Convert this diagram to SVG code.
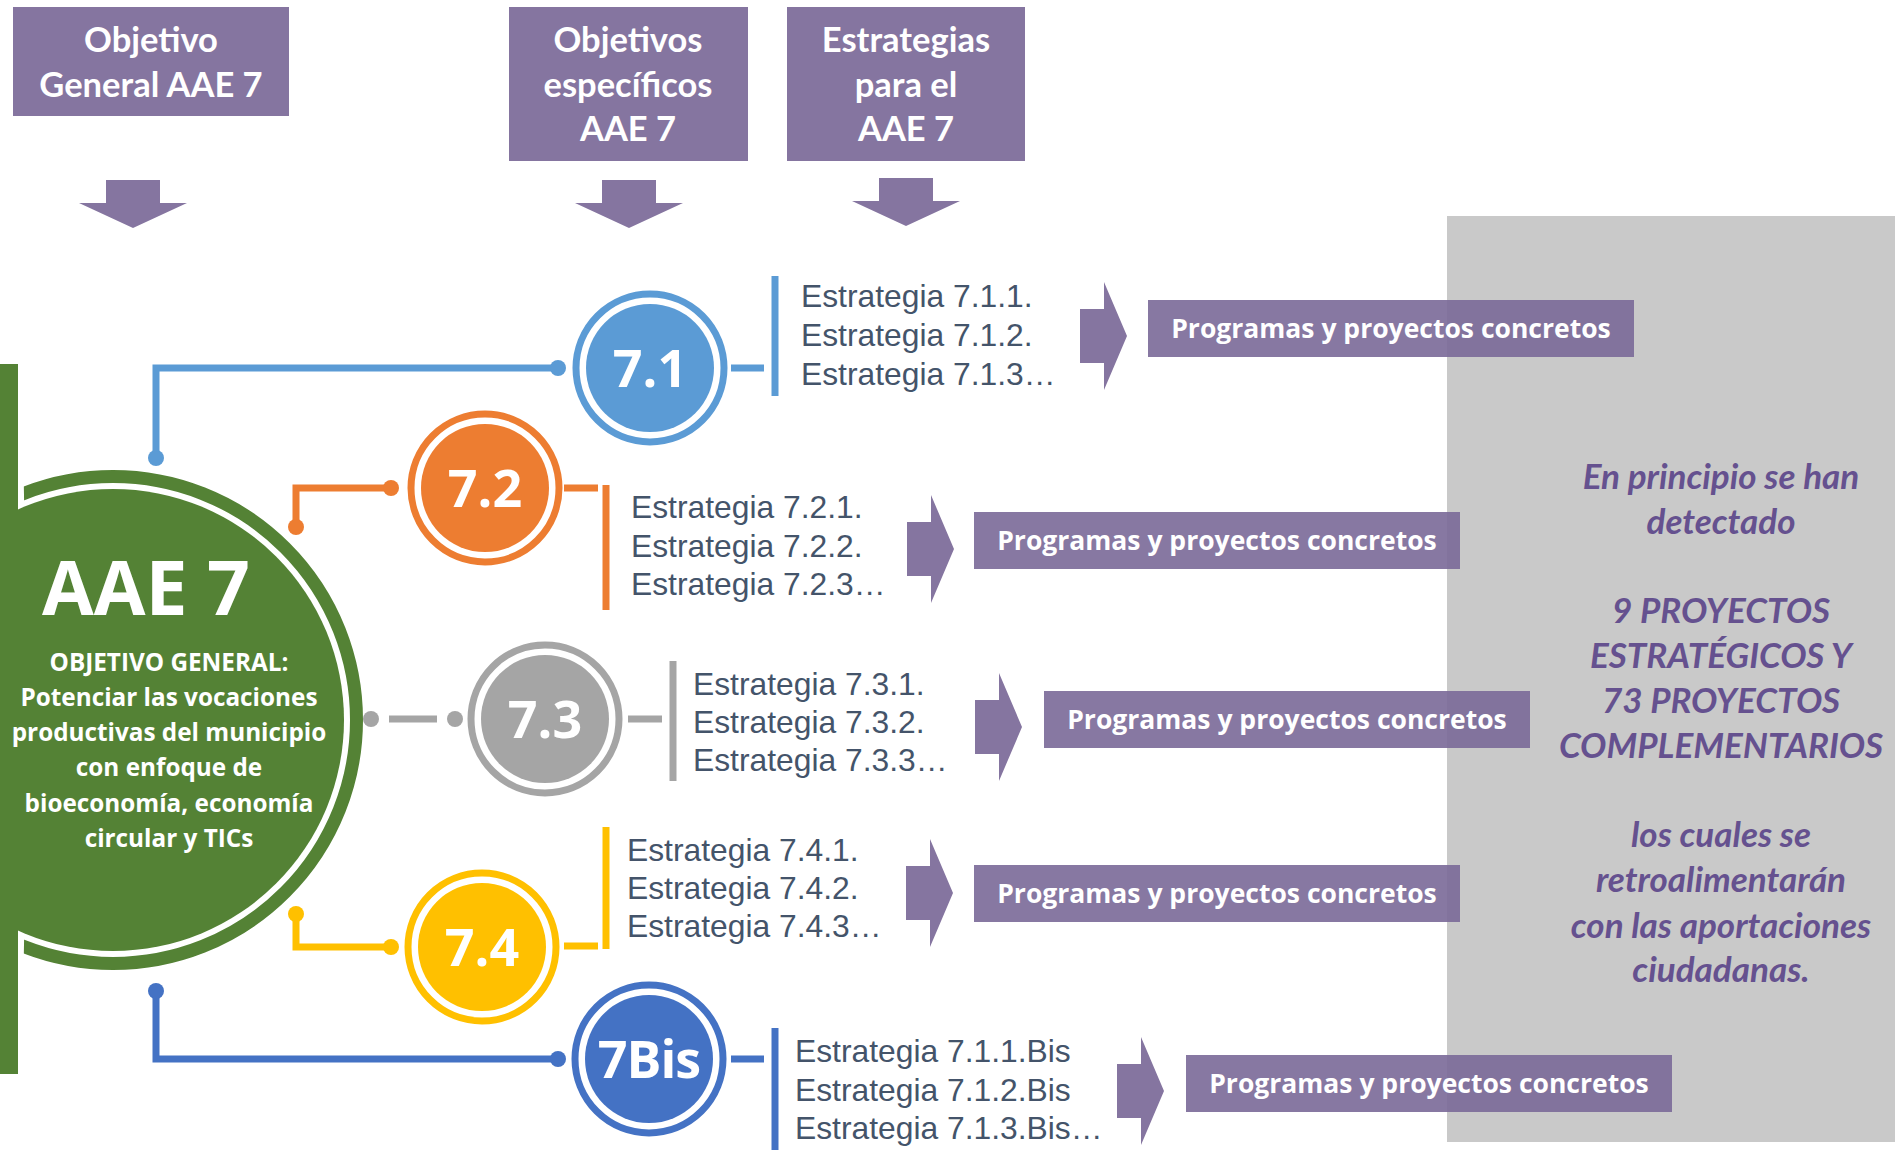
<svg xmlns="http://www.w3.org/2000/svg" width="1895" height="1150" viewBox="0 0 1895 1150">
<defs>
<style>
.hdr{fill:#8575A0}
.hdrt{font-family:Lato,'Liberation Sans',sans-serif;font-weight:700;font-size:34.5px;fill:#fff;text-anchor:middle}
.arr{fill:#8575A0}
.prog{fill:#7A6998;fill-opacity:0.9}
.progt{font-family:'Open Sans','Liberation Sans',sans-serif;font-weight:700;font-size:26.5px;fill:#fff;text-anchor:middle}
.st{font-family:'Liberation Sans',Arial,sans-serif;font-size:31.8px;fill:#44546A}
.num{font-family:'Open Sans','Liberation Sans',sans-serif;font-weight:700;font-size:52px;fill:#fff;text-anchor:middle}
.note{font-family:Lato,'Liberation Sans',sans-serif;font-weight:700;font-style:italic;font-size:35px;fill:#65518F;text-anchor:middle}
.gt{font-family:'Open Sans','Liberation Sans',sans-serif;font-weight:700;font-size:24.3px;fill:#fff;text-anchor:middle}
.ln{fill:none;stroke-width:7}
</style>
<path id="down" d="M-27,0 H27 V23 H54 L0,48 L-54,23 H-27 Z"/>
<path id="right" d="M0,-27 H24 V-54 L47,0 L24,54 V27 H0 Z"/>
<clipPath id="ringClip"><polygon points="23,0 400,0 400,1150 23,1150 23,1000 28,720 23,440"/></clipPath>
</defs>
<rect width="1895" height="1150" fill="#fff"/>

<rect id="panel" x="1447" y="216" width="448" height="926" fill="#C9C9C9"/>

<g id="hdr1"><rect class="hdr" x="13" y="7" width="276" height="109"/>
<text class="hdrt" x="151" y="52">Objetivo</text><text class="hdrt" x="151" y="97">General AAE 7</text></g>
<g id="hdr2"><rect class="hdr" x="509" y="7" width="239" height="154"/>
<text class="hdrt" x="628" y="52">Objetivos</text><text class="hdrt" x="628" y="97">específicos</text><text class="hdrt" x="628" y="141">AAE 7</text></g>
<g id="hdr3"><rect class="hdr" x="787" y="7" width="238" height="154"/>
<text class="hdrt" x="906" y="52">Estrategias</text><text class="hdrt" x="906" y="97">para el</text><text class="hdrt" x="906" y="141">AAE 7</text></g>

<g id="downArrows">
<use href="#down" class="arr" x="133" y="180"/>
<use href="#down" class="arr" x="629" y="180"/>
<use href="#down" class="arr" x="906" y="178"/>
</g>

<g id="aae7">
<circle cx="113" cy="720" r="243.5" fill="none" stroke="#548235" stroke-width="13" clip-path="url(#ringClip)"/>
<circle cx="113" cy="720" r="231" fill="#548235"/>
<rect x="0" y="364" width="18" height="710" fill="#548235"/>
<text class="num" x="146" y="615" style="font-size:75px">AAE 7</text>
<text class="gt" x="169" y="671">OBJETIVO GENERAL:</text>
<text class="gt" x="169" y="706">Potenciar las vocaciones</text>
<text class="gt" x="169" y="741">productivas del municipio</text>
<text class="gt" x="169" y="776">con enfoque de</text>
<text class="gt" x="169" y="812">bioeconomía, economía</text>
<text class="gt" x="169" y="847">circular y TICs</text>
</g>

<g id="connectors">
<g stroke="#5B9BD5" fill="#5B9BD5">
<polyline class="ln" points="156,458 156,368 558,368"/><circle cx="156" cy="458" r="8" stroke="none"/><circle cx="558" cy="368" r="8" stroke="none"/>
<line class="ln" x1="731" y1="368" x2="764" y2="368"/><line class="ln" x1="775" y1="276" x2="775" y2="396"/>
</g>
<g stroke="#ED7D31" fill="#ED7D31">
<polyline class="ln" points="296,527 296,488 391,488"/><circle cx="296" cy="527" r="8" stroke="none"/><circle cx="391" cy="488" r="8" stroke="none"/>
<line class="ln" x1="564" y1="488" x2="598" y2="488"/><line class="ln" x1="606" y1="485" x2="606" y2="610"/>
</g>
<g stroke="#A5A5A5" fill="#A5A5A5">
<line class="ln" x1="389" y1="719" x2="437" y2="719"/><circle cx="371" cy="719" r="8" stroke="none"/><circle cx="455" cy="719" r="8" stroke="none"/>
<line class="ln" x1="628" y1="719" x2="662" y2="719"/><line class="ln" x1="673" y1="661" x2="673" y2="781"/>
</g>
<g stroke="#FFC000" fill="#FFC000">
<polyline class="ln" points="296,914 296,947 391,947"/><circle cx="296" cy="914" r="8" stroke="none"/><circle cx="391" cy="947" r="8" stroke="none"/>
<line class="ln" x1="564" y1="946" x2="598" y2="946"/><line class="ln" x1="606" y1="827" x2="606" y2="949"/>
</g>
<g stroke="#4472C4" fill="#4472C4">
<polyline class="ln" points="156,991 156,1059 558,1059"/><circle cx="156" cy="991" r="8" stroke="none"/><circle cx="558" cy="1059" r="8" stroke="none"/>
<line class="ln" x1="731" y1="1059" x2="764" y2="1059"/><line class="ln" x1="775" y1="1028" x2="775" y2="1150"/>
</g>
</g>

<g id="obj71">
<circle cx="650" cy="368" r="74" fill="none" stroke="#5B9BD5" stroke-width="7"/>
<circle cx="650" cy="368" r="64" fill="#5B9BD5"/>
<text class="num" x="650" y="387">7.1</text></g>
<g id="obj72">
<circle cx="485" cy="488" r="74" fill="none" stroke="#ED7D31" stroke-width="7"/>
<circle cx="485" cy="488" r="64" fill="#ED7D31"/>
<text class="num" x="485" y="507">7.2</text></g>
<g id="obj73">
<circle cx="545" cy="719" r="74" fill="none" stroke="#A5A5A5" stroke-width="7"/>
<circle cx="545" cy="719" r="64" fill="#A5A5A5"/>
<text class="num" x="545" y="738">7.3</text></g>
<g id="obj74">
<circle cx="482" cy="947" r="74" fill="none" stroke="#FFC000" stroke-width="7"/>
<circle cx="482" cy="947" r="64" fill="#FFC000"/>
<text class="num" x="482" y="966">7.4</text></g>
<g id="obj7bis">
<circle cx="649" cy="1059" r="74" fill="none" stroke="#4472C4" stroke-width="7"/>
<circle cx="649" cy="1059" r="64" fill="#4472C4"/>
<text class="num" x="649" y="1078" style="letter-spacing:-1px">7Bis</text></g>

<g id="est71"><text class="st" x="801" y="307">Estrategia 7.1.1.</text><text class="st" x="801" y="346">Estrategia 7.1.2.</text><text class="st" x="801" y="385">Estrategia 7.1.3…</text></g>
<g id="est72"><text class="st" x="631" y="518">Estrategia 7.2.1.</text><text class="st" x="631" y="557">Estrategia 7.2.2.</text><text class="st" x="631" y="595">Estrategia 7.2.3…</text></g>
<g id="est73"><text class="st" x="693" y="695">Estrategia 7.3.1.</text><text class="st" x="693" y="733">Estrategia 7.3.2.</text><text class="st" x="693" y="771">Estrategia 7.3.3…</text></g>
<g id="est74"><text class="st" x="627" y="861">Estrategia 7.4.1.</text><text class="st" x="627" y="899">Estrategia 7.4.2.</text><text class="st" x="627" y="937">Estrategia 7.4.3…</text></g>
<g id="est7bis"><text class="st" x="795" y="1062">Estrategia 7.1.1.Bis</text><text class="st" x="795" y="1101">Estrategia 7.1.2.Bis</text><text class="st" x="795" y="1139">Estrategia 7.1.3.Bis…</text></g>

<g id="rightArrows">
<use href="#right" class="arr" x="1080" y="336"/>
<use href="#right" class="arr" x="907" y="549"/>
<use href="#right" class="arr" x="975" y="727"/>
<use href="#right" class="arr" x="906" y="893"/>
<use href="#right" class="arr" x="1117" y="1091"/>
</g>

<g id="prog1"><rect class="prog" x="1148" y="300" width="486" height="57"/><text class="progt" x="1391" y="338">Programas y proyectos concretos</text></g>
<g id="prog2"><rect class="prog" x="974" y="512" width="486" height="57"/><text class="progt" x="1217" y="550">Programas y proyectos concretos</text></g>
<g id="prog3"><rect class="prog" x="1044" y="691" width="486" height="57"/><text class="progt" x="1287" y="729">Programas y proyectos concretos</text></g>
<g id="prog4"><rect class="prog" x="974" y="865" width="486" height="57"/><text class="progt" x="1217" y="903">Programas y proyectos concretos</text></g>
<g id="prog5"><rect class="prog" x="1186" y="1055" width="486" height="57"/><text class="progt" x="1429" y="1093">Programas y proyectos concretos</text></g>

<g id="note">
<text class="note" x="1721" y="489">En principio se han</text>
<text class="note" x="1721" y="534">detectado</text>
<text class="note" x="1721" y="623">9 PROYECTOS</text>
<text class="note" x="1721" y="668">ESTRATÉGICOS Y</text>
<text class="note" x="1721" y="713">73 PROYECTOS</text>
<text class="note" x="1721" y="758">COMPLEMENTARIOS</text>
<text class="note" x="1721" y="847">los cuales se</text>
<text class="note" x="1721" y="892">retroalimentarán</text>
<text class="note" x="1721" y="938">con las aportaciones</text>
<text class="note" x="1721" y="982">ciudadanas.</text>
</g>
</svg>
